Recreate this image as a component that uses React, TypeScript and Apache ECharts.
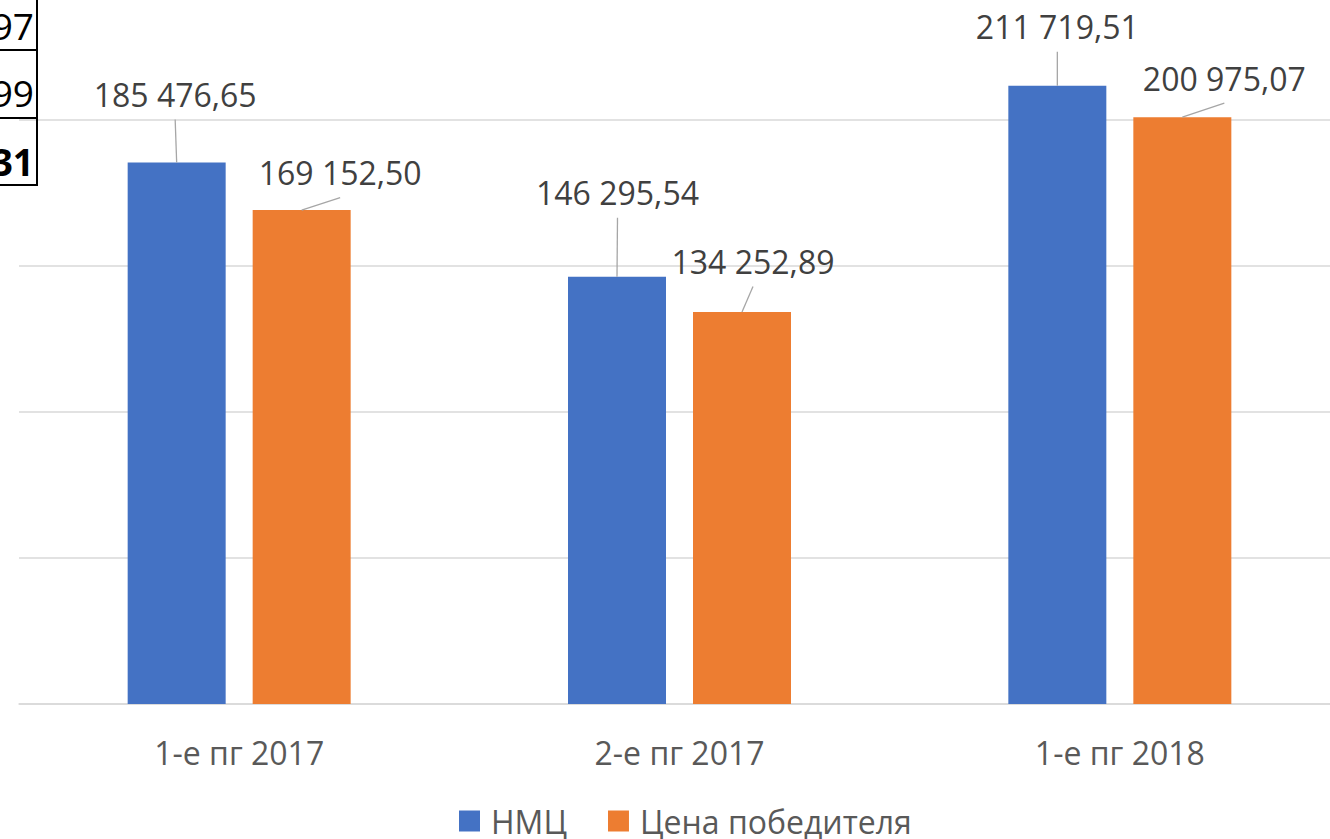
import React, { useEffect, useRef } from "react";
import * as echarts from "echarts";

const categories = ["1-е пг 2017", "2-е пг 2017", "1-е пг 2018"];
const seriesNames = ["НМЦ", "Цена победителя"];
const nmcValues = [185476.65, 146295.54, 211719.51];
const winnerValues = [169152.5, 134252.89, 200975.07];
const tableFragment = ["97", "99", "31"];

const COLORS = ["#4472C4", "#ED7D31"];
// label offsets (px) relative to the bar top centre, per series / category
const LABEL_DX = [
  [-1.5, 0.5, 0],
  [38.5, 11, 42],
];
const LABEL_DY = [
  [-68, -84, -59],
  [-37.5, -50.5, -39],
];
const BAR_W = 98;
const BAR_GAP = 27;
const FONT = "'Open Sans', sans-serif";

function fmt(v: number): string {
  const [i, d] = v.toFixed(2).split(".");
  return i.replace(/\B(?=(\d{3})+(?!\d))/g, " ") + "," + d;
}

function makeLabelSeries(values: number[], s: number) {
  return {
    type: "custom",
    name: "label-" + s,
    silent: true,
    clip: false,
    z: 5,
    data: values.map((v, i) => [i, v]),
    encode: { x: 0, y: 1 },
    renderItem: (params: any, api: any) => {
      const i = params.dataIndex;
      const v = api.value(1);
      const p = api.coord([api.value(0), v]);
      const off = (s === 0 ? -1 : 1) * (BAR_W + BAR_GAP) / 2;
      const bx = p[0] + off;
      const by = p[1];
      const tx = bx + LABEL_DX[s][i];
      const ty = by + LABEL_DY[s][i];
      return {
        type: "group",
        children: [
          {
            type: "line",
            shape: { x1: bx, y1: by, x2: tx, y2: ty + 25 },
            style: { stroke: "#A6A6A6", lineWidth: 1.3 },
          },
          {
            type: "text",
            x: tx,
            y: ty,
            style: {
              text: fmt(v),
              fill: "#404040",
              fontSize: 32,
              fontFamily: FONT,
              align: "center",
              verticalAlign: "middle",
            },
          },
        ],
      };
    },
  };
}

export default function App() {
  const ref = useRef<HTMLDivElement>(null);
  useEffect(() => {
    if (!ref.current) return;
    const chart = echarts.init(ref.current, null, { renderer: "svg" });
    const tableYs = [25, 92, 161];
    const graphic: any[] = [
      {
        type: "line",
        shape: { x1: 37, y1: 0, x2: 37, y2: 186 },
        style: { stroke: "#000", lineWidth: 2 },
        z: 100,
      },
      ...[50, 118, 185].map((y) => ({
        type: "line",
        shape: { x1: 0, y1: y, x2: 38, y2: y },
        style: { stroke: "#000", lineWidth: 2 },
        z: 100,
      })),
      ...tableFragment.map((t, k) => ({
        type: "text",
        x: 34,
        y: tableYs[k],
        z: 100,
        style: {
          text: t,
          fill: "#000",
          fontSize: 37,
          fontWeight: k === 2 ? "bold" : "normal",
          fontFamily: FONT,
          align: "right",
          verticalAlign: "middle",
        },
      })),
    ];
    chart.setOption({
      animation: false,
      backgroundColor: "#fff",
      grid: { left: 19, right: 0, top: 120, bottom: 135, containLabel: false },
      legend: {
        data: seriesNames,
        left: 459,
        top: 804,
        padding: 0,
        icon: "rect",
        itemWidth: 21,
        itemHeight: 21,
        itemGap: 41,
        textStyle: {
          fontFamily: FONT,
          fontSize: 32,
          lineHeight: 34,
          color: "#595959",
          padding: [0, 0, 0, 6],
        },
      },
      xAxis: {
        type: "category",
        data: categories,
        axisTick: { show: false },
        axisLine: { lineStyle: { color: "#D9D9D9", width: 1.5 } },
        axisLabel: { fontFamily: FONT, fontSize: 32, color: "#595959", margin: 32 },
      },
      yAxis: {
        type: "value",
        min: 0,
        max: 200000,
        interval: 50000,
        axisLabel: { show: false },
        axisLine: { show: false },
        axisTick: { show: false },
        splitLine: { lineStyle: { color: "#D9D9D9", width: 1.5 } },
      },
      series: [
        {
          type: "bar",
          name: seriesNames[0],
          data: nmcValues,
          clip: false,
          barWidth: BAR_W,
          barGap: (BAR_GAP / BAR_W) * 100 + "%",
          itemStyle: { color: COLORS[0] },
        },
        {
          type: "bar",
          name: seriesNames[1],
          data: winnerValues,
          clip: false,
          barWidth: BAR_W,
          barGap: (BAR_GAP / BAR_W) * 100 + "%",
          itemStyle: { color: COLORS[1] },
        },
        makeLabelSeries(nmcValues, 0),
        makeLabelSeries(winnerValues, 1),
      ],
      graphic,
    });
    return () => chart.dispose();
  }, []);
  return (
    <div
      ref={ref}
      style={{ position: "fixed", left: 0, top: 0, width: 1340, height: 839 }}
    />
  );
}
